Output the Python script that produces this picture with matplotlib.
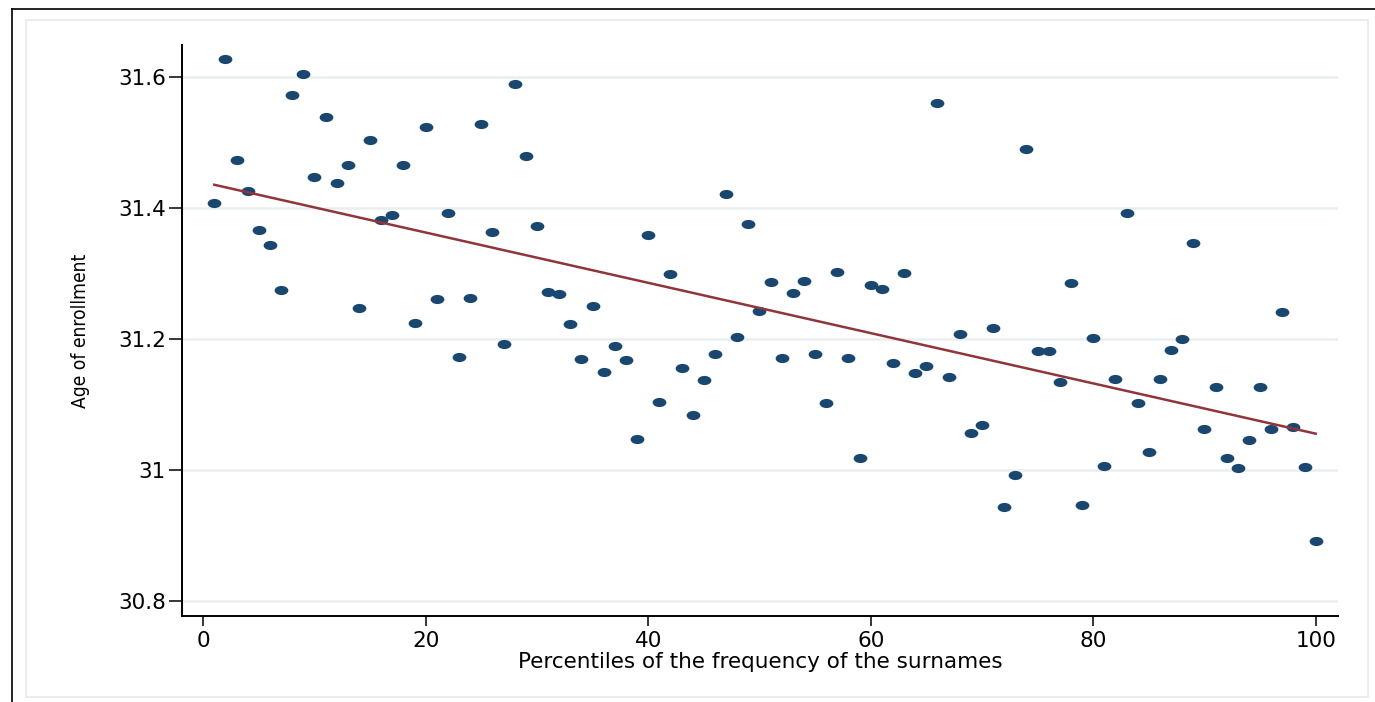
import numpy as np
import matplotlib.pyplot as plt
from matplotlib.markers import MarkerStyle
from matplotlib.transforms import Affine2D
from matplotlib.lines import Line2D
from matplotlib.patches import Rectangle
from matplotlib import font_manager

# percentiles 1..100 of surname frequency and mean age of enrollment
percentile = np.arange(1, 101)
age = np.array([
    31.408, 31.627, 31.473, 31.426, 31.366, 31.343, 31.275, 31.573, 31.604, 31.448,
    31.539, 31.438, 31.465, 31.248, 31.504, 31.381, 31.390, 31.466, 31.224, 31.524,
    31.261, 31.393, 31.173, 31.262, 31.528, 31.363, 31.192, 31.589, 31.479, 31.373,
    31.272, 31.268, 31.223, 31.170, 31.251, 31.150, 31.189, 31.168, 31.047, 31.359,
    31.104, 31.299, 31.155, 31.084, 31.137, 31.177, 31.422, 31.203, 31.376, 31.243,
    31.287, 31.171, 31.270, 31.289, 31.177, 31.103, 31.303, 31.171, 31.019, 31.282,
    31.277, 31.163, 31.301, 31.148, 31.159, 31.560, 31.142, 31.208, 31.056, 31.069,
    31.217, 30.943, 30.993, 31.490, 31.182, 31.181, 31.135, 31.285, 30.946, 31.202,
    31.006, 31.139, 31.393, 31.103, 31.027, 31.139, 31.183, 31.200, 31.347, 31.063,
    31.127, 31.019, 31.003, 31.046, 31.127, 31.062, 31.242, 31.066, 31.005, 30.892,
])

x_ticks = [0, 20, 40, 60, 80, 100]
y_ticks = [30.8, 31.0, 31.2, 31.4, 31.6]
y_ticklabels = ['30.8', '31', '31.2', '31.4', '31.6']

NAVY = '#1a476f'
MAROON = '#90353b'
GRID = '#eaeef0'

# linear fit (like Stata's lfit)
slope, intercept = np.polyfit(percentile, age, 1)
fit_x = np.array([percentile.min(), percentile.max()])
fit_y = intercept + slope * fit_x

# narrow font for the y title, if one is around
names = {f.name for f in font_manager.fontManager.ttflist}
narrow = [n for n in ('Liberation Sans Narrow', 'DejaVu Sans Condensed') if n in names]

fig = plt.figure(figsize=(13.75, 7.02), dpi=100)
fig.patch.set_facecolor('white')

# outer frame (top + left) and the light graph-region border
fig.add_artist(Line2D([12 / 1375, 1.0], [1 - 9 / 702, 1 - 9 / 702],
                      color='black', lw=1.2, transform=fig.transFigure))
fig.add_artist(Line2D([12 / 1375, 12 / 1375], [0.0, 1 - 9 / 702],
                      color='black', lw=1.2, transform=fig.transFigure))
fig.add_artist(Rectangle((26 / 1375, 5 / 702), (1368 - 26) / 1375, (682 - 5) / 702,
                         fill=False, ec='#e6e9ec', lw=1.2, transform=fig.transFigure))

ax = fig.add_axes([182 / 1375, 86 / 702, (1338 - 182) / 1375, (616 - 45) / 702])
ax.set_facecolor('white')

for yv in y_ticks:
    ax.axhline(yv, color=GRID, lw=1.8, zorder=0)

ell = MarkerStyle('o', transform=Affine2D().scale(1.5, 1.0))
ax.plot(percentile, age, ls='none', marker=ell, ms=6.6, mfc=NAVY, mec=NAVY,
        mew=0, zorder=3)
ax.plot(fit_x, fit_y, color=MAROON, lw=1.8, zorder=4)

ax.set_xlim(-1.9, 102.0)
ax.set_ylim(30.777, 31.649)
ax.set_xticks(x_ticks)
ax.set_yticks(y_ticks)
ax.set_yticklabels(y_ticklabels)

for side in ('top', 'right'):
    ax.spines[side].set_visible(False)
for side in ('left', 'bottom'):
    ax.spines[side].set_linewidth(1.4)
    ax.spines[side].set_color('black')

ax.tick_params(axis='y', length=9.5, width=1.1, pad=2, labelsize=15.5)
ax.tick_params(axis='x', length=7.5, width=1.1, pad=3, labelsize=15.5)

ax.set_xlabel('Percentiles of the frequency of the surnames', fontsize=15.5, labelpad=1)
ax.set_ylabel('Age of enrollment', fontsize=13.8,
              family=narrow + ['DejaVu Sans'], stretch='condensed', labelpad=20)

fig.savefig('out.png', dpi=100)
